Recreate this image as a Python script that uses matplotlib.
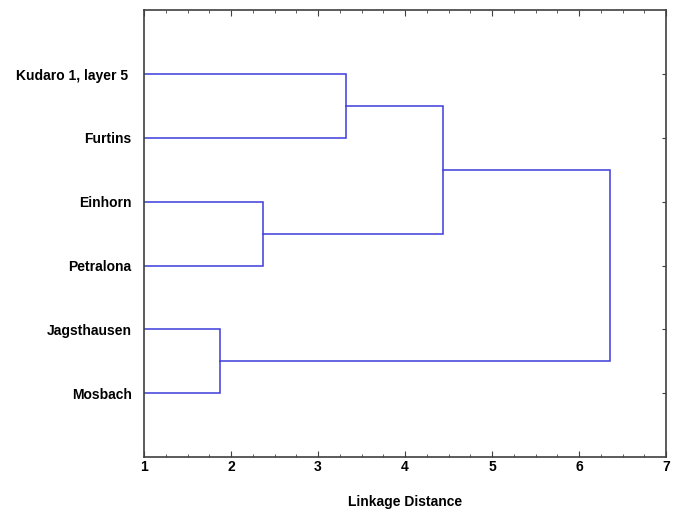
import matplotlib
matplotlib.use("Agg")
import matplotlib.pyplot as plt
from matplotlib.ticker import MultipleLocator

plt.rcParams["font.family"] = ["Liberation Sans", "DejaVu Sans"]

# leaves, top to bottom
leaves = ["Kudaro 1, layer 5 ", "Furtins", "Einhorn", "Petralona", "Jagsthausen", "Mosbach"]
# merges: (left member, right member, linkage distance); ints are leaf indices,
# strings refer to earlier merge names
merge_names = ["KF", "EP", "JM", "KFEP", "ALL"]
merge_left = [0, 2, 4, "KF", "KFEP"]
merge_right = [1, 3, 5, "EP", "JM"]
merge_dist = [3.32, 2.37, 1.87, 4.44, 6.36]

LINE_COLOR = "#3c3cdc"
AXIS_COLOR = "#404040"

fig = plt.figure(figsize=(6.81, 5.09), dpi=100)
ax = fig.add_axes([0.2115, 0.102, 0.7665, 0.878])

pos = {}   # member -> (y, x)
for i in range(len(leaves)):
    pos[i] = (i + 1, 1.0)

for name, a, b, d in zip(merge_names, merge_left, merge_right, merge_dist):
    ya, xa = pos[a]
    yb, xb = pos[b]
    ax.plot([xa, d, d, xb], [ya, ya, yb, yb], color=LINE_COLOR, lw=1.1,
            solid_joinstyle="miter")
    pos[name] = ((ya + yb) / 2, d)

ax.set_xlim(1, 7)
ax.set_ylim(7, 0)
ax.set_yticks(range(1, len(leaves) + 1))
ax.set_yticklabels(leaves)
ax.xaxis.set_major_locator(MultipleLocator(1))
ax.xaxis.set_minor_locator(MultipleLocator(0.25))

ax.tick_params(axis="x", which="both", direction="in", top=True, bottom=True,
               color=AXIS_COLOR, labelsize=10, pad=2)
ax.tick_params(axis="x", which="major", length=4)
ax.tick_params(axis="x", which="minor", length=2.5)
ax.tick_params(axis="y", which="both", direction="in", left=False, right=True,
               length=3, color=AXIS_COLOR, labelsize=10, pad=9)
for lbl in ax.get_xticklabels() + ax.get_yticklabels():
    lbl.set_fontweight("bold")

ax.set_xlabel("Linkage Distance", fontsize=10, fontweight="bold", labelpad=15)
for sp in ax.spines.values():
    sp.set_color(AXIS_COLOR)
    sp.set_linewidth(1.2)

fig.savefig("out.png", dpi=100)
